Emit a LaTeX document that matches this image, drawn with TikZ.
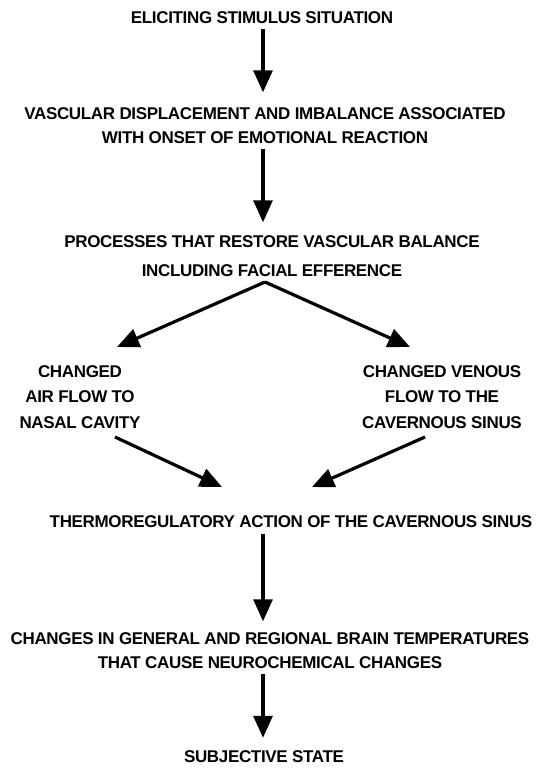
\documentclass[tikz,border=0pt]{standalone}
\usepackage{fontspec}
\setmainfont{Liberation Sans}[LetterSpace=-2]
\usetikzlibrary{arrows.meta,calc}
\begin{document}
\begin{tikzpicture}[x=1pt,y=-1pt,
  lab/.style={font=\bfseries\fontsize{17}{24}\selectfont, inner sep=0pt, align=center},
  arr/.style={line width=3.2pt, -{Triangle[width=19pt,length=22pt]}},
]
\useasboundingbox (0,0) rectangle (540,779);
\node[lab] (t1) at (262,18) {ELICITING STIMULUS SITUATION};
\node[lab] (t2) at (265,125.5) {VASCULAR DISPLACEMENT AND IMBALANCE ASSOCIATED\\WITH ONSET OF EMOTIONAL REACTION};
\node[lab,font=\bfseries\fontsize{17}{29}\selectfont] (t3) at (272,256) {PROCESSES THAT RESTORE VASCULAR BALANCE\\INCLUDING FACIAL EFFERENCE};
\node[lab,font=\bfseries\fontsize{17}{25.5}\selectfont] (l) at (80,397) {CHANGED\\AIR FLOW TO\\NASAL CAVITY};
\node[lab,font=\bfseries\fontsize{17}{25.5}\selectfont] (r) at (442,397) {CHANGED VENOUS\\FLOW TO THE\\CAVERNOUS SINUS};
\node[lab] (t4) at (291,522) {THERMOREGULATORY ACTION OF THE CAVERNOUS SINUS};
\node[lab] (t5) at (270,650.5) {CHANGES IN GENERAL AND REGIONAL BRAIN TEMPERATURES\\THAT CAUSE NEUROCHEMICAL CHANGES};
\node[lab] (t6) at (264,757) {SUBJECTIVE STATE};
% connector anchor points
\coordinate (ax) at (263,0);
\coordinate (apex) at (265,282);
\coordinate (lt) at (117,347);
\coordinate (rt) at (410,347);
\coordinate (ls) at (115,437);
\coordinate (rs) at (425,437);
\coordinate (lm) at (222,487);
\coordinate (rm) at (312,487);
\draw[arr] ([yshift=-5pt]t1.south -| ax) -- ([yshift=15pt]t2.north -| ax);
\draw[arr] ([yshift=-5pt]t2.south -| ax) -- ([yshift=13pt]t3.north -| ax);
\draw[arr] (apex) -- (lt);
\draw[arr] (apex) -- (rt);
\draw[arr] (ls) -- (lm);
\draw[arr] (rs) -- (rm);
\draw[arr] ([yshift=-6pt]t4.south -| ax) -- ([yshift=11pt]t5.north -| ax);
\draw[arr] ([yshift=-5pt]t5.south -| ax) -- ([yshift=13pt]t6.north -| ax);
\end{tikzpicture}
\end{document}
